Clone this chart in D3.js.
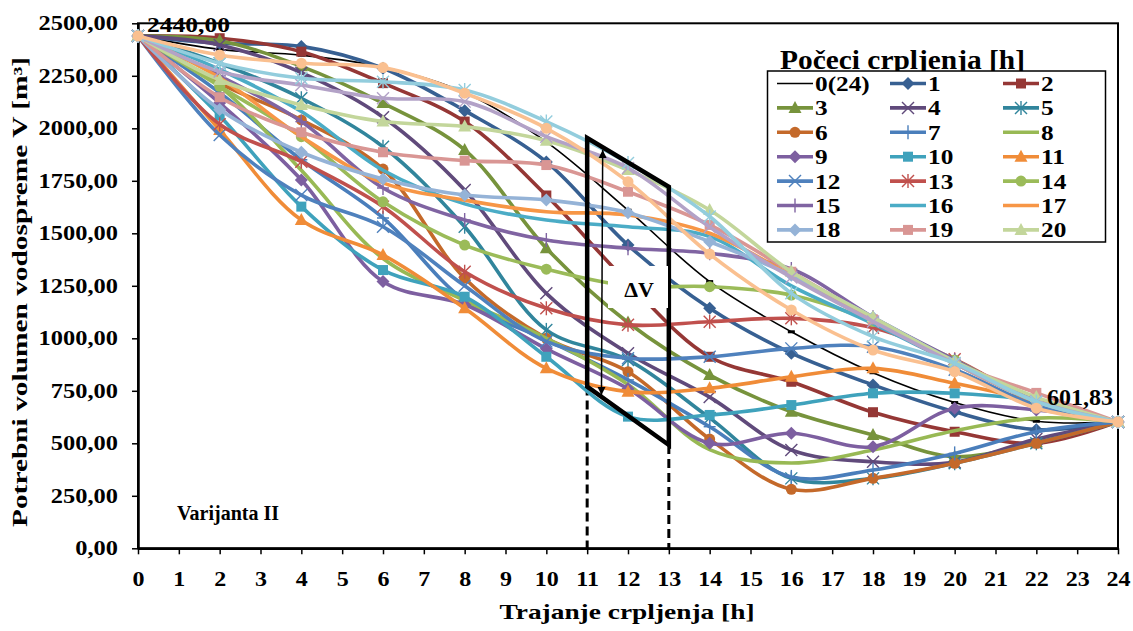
<!DOCTYPE html>
<html><head><meta charset="utf-8">
<script src="https://cdn.jsdelivr.net/npm/d3@7"></script>
<style>
body{margin:0;background:#fff;}
text{font-family:"Liberation Serif","Times New Roman",serif;font-weight:bold;fill:#000;}
</style>
</head><body>
<svg id="c" width="1133" height="631"></svg>
<script>
// ---------- DATA ----------
const hours = [0,2,4,6,8,10,12,14,16,18,20,22,24];
const seriesNames = ["0(24)","1","2","3","4","5","6","7","8","9","10","11","12","13","14","15","16","17","18","19","20","21","22","23"];
const v00 = [2440,2376,2348,2292,2170,1935,1610,1270,1031,836,694,605,601.83];
const v01 = [2440,2405,2390,2286,2084,1840,1444,1143,929,778,650,565,601.83];
const v02 = [2440,2429,2365,2215,2032,1680,1265,912,793,648,555,500,601.83];
const v03 = [2440,2417,2295,2120,1897,1429,1075,825,650,540,436,505,601.83];
const v04 = [2440,2397,2265,2053,1706,1214,929,720,468,412,410,520,601.83];
const v05 = [2440,2310,2143,1912,1531,1040,897,621,333,333,405,500,601.83];
const v06 = [2440,2214,2040,1806,1286,1000,841,520,281,333,405,500,601.83];
const v07 = [2440,2170,1850,1573,1180,992,802,579,340,373,452,555,601.83];
const v08 = [2440,2200,1800,1380,1180,1000,780,470,406,468,560,620,601.83];
const v09 = [2440,2120,1754,1270,1160,950,760,500,548,484,667,659,601.83];
const v10 = [2440,2060,1627,1325,1198,912,627,635,682,738,738,700,601.83];
const v11 = [2440,1992,1563,1397,1143,857,746,762,817,857,786,700,601.83];
const v12 = [2440,1968,1682,1531,1250,985,905,912,952,960,850,680,601.83];
const v13 = [2440,2019,1841,1627,1317,1143,1064,1079,1095,1050,900,700,601.83];
const v14 = [2440,2200,1960,1650,1444,1329,1250,1246,1206,1080,897,700,601.83];
const v15 = [2440,2250,2032,1716,1563,1468,1429,1405,1330,1100,897,700,601.83];
const v16 = [2440,2280,2080,1800,1640,1563,1531,1484,1250,1070,880,700,601.83];
const v17 = [2440,2240,1960,1740,1658,1603,1587,1500,1300,1090,880,700,601.83];
const v18 = [2440,2090,1886,1759,1682,1659,1598,1460,1300,1100,890,700,601.83];
const v19 = [2440,2148,1981,1886,1846,1825,1698,1540,1317,1090,880,740,601.83];
const v20 = [2440,2230,2111,2032,2008,1941,1801,1611,1317,1100,890,720,601.83];
const v21 = [2440,2270,2206,2143,2127,1960,1811,1530,1290,1080,880,700,601.83];
const v22 = [2440,2310,2238,2222,2182,2032,1835,1580,1214,1008,882,698,601.83];
const v23 = [2440,2349,2310,2289,2167,2000,1746,1401,1135,944,841,667,601.83];
const seriesValues = [v00,v01,v02,v03,v04,v05,v06,v07,v08,v09,v10,v11,v12,v13,v14,v15,v16,v17,v18,v19,v20,v21,v22,v23];
const yTicks = [0,250,500,750,1000,1250,1500,1750,2000,2250,2500];
const xTicks = d3.range(0,25);
// annotation (ΔV trapezoid, in data units)
const trapX = [11,13,13,11];
const trapY = [1954,1721,492,770];
const arrowX = [11.35,11.38];
const arrowY = [730,1897];
const startLabel = "2440,00", endLabel = "601,83";

// ---------- STYLE ----------
const colors = ["#000000","#376092","#953735","#77933C","#604A7B","#31859C","#C4692A","#4A7EBB","#98B954","#7D5FA0","#3FA2BC","#F08C38","#4F81BD","#C0504D","#9BBB59","#8064A2","#4BACC6","#F79646","#95B3D7","#D99694","#C3D69B","#B3A2C7","#93CDDD","#FAC090"];
const markers = ["dash","diamond","square","triangle","x","star","circle","plus","none","diamond","square","triangle","x","star","circle","plus","none","none","diamond","square","triangle","x","star","circle"];

const svg = d3.select("#c");
const x = d3.scaleLinear().domain([0,24]).range([138,1118]);
const y = d3.scaleLinear().domain([0,2500]).range([548.3,23.3]);

svg.append("rect").attr("width",1133).attr("height",631).attr("fill","#fff");

// plot frame
svg.append("rect").attr("x",x(0)).attr("y",y(2500)).attr("width",x(24)-x(0)).attr("height",y(0)-y(2500))
  .attr("fill","none").attr("stroke","#000").attr("stroke-width",2);

// axes
const fmt = d => d3.format(".2f")(d).replace(".",",");
const ya = svg.append("g").attr("transform",`translate(${x(0)},0)`)
  .call(d3.axisLeft(y).tickValues(yTicks).tickSize(6).tickSizeOuter(0).tickPadding(14).tickFormat(fmt));
ya.selectAll("text").attr("font-size",20).attr("transform","scale(1.22,1)").attr("x",-16.5);
const xa = svg.append("g").attr("transform",`translate(0,${y(0)})`)
  .call(d3.axisBottom(x).tickValues(xTicks).tickSize(6).tickSizeOuter(0).tickPadding(18).tickFormat(d=>d));
xa.selectAll("text").attr("font-size",20).attr("transform","scale(1.2,1)");
[ya,xa].forEach(a=>{a.select(".domain").attr("stroke-width",2.5);a.selectAll(".tick line").attr("stroke-width",1.5);});

// clip for lines
svg.append("clipPath").attr("id","pc").append("rect").attr("x",x(0)-10).attr("y",y(2500)-10).attr("width",x(24)-x(0)+20).attr("height",y(0)-y(2500)+20);

// dashed verticals
svg.append("line").attr("x1",x(trapX[0])).attr("x2",x(trapX[0])).attr("y1",y(trapY[3])).attr("y2",y(0))
  .attr("stroke","#000").attr("stroke-width",3).attr("stroke-dasharray","9,5");
svg.append("line").attr("x1",x(trapX[1])).attr("x2",x(trapX[1])).attr("y1",y(trapY[2])).attr("y2",y(0))
  .attr("stroke","#000").attr("stroke-width",3).attr("stroke-dasharray","9,5");

// series
const line = d3.line().x((d,i)=>x(hours[i])).y(d=>y(d)).curve(d3.curveCatmullRom.alpha(0.5));
function drawMarker(g,type,cx,cy,col){
  const s=6;
  if(type==="diamond") g.append("path").attr("d",`M${cx},${cy-s-0.5}L${cx+s+0.5},${cy}L${cx},${cy+s+0.5}L${cx-s-0.5},${cy}Z`).attr("fill",col);
  else if(type==="square") g.append("rect").attr("x",cx-5).attr("y",cy-5).attr("width",10).attr("height",10).attr("fill",col);
  else if(type==="triangle") g.append("path").attr("d",`M${cx},${cy-7}L${cx+6.5},${cy+5}L${cx-6.5},${cy+5}Z`).attr("fill",col);
  else if(type==="circle") g.append("circle").attr("cx",cx).attr("cy",cy).attr("r",5.5).attr("fill",col);
  else if(type==="dash") g.append("rect").attr("x",cx-3.5).attr("y",cy-1.5).attr("width",7).attr("height",3).attr("fill",col);
  else if(type==="x"||type==="star"||type==="plus"){
    const p=g.append("g").attr("stroke",col).attr("stroke-width",1.4);
    if(type!=="plus"){p.append("line").attr("x1",cx-6).attr("y1",cy-6).attr("x2",cx+6).attr("y2",cy+6);
      p.append("line").attr("x1",cx-6).attr("y1",cy+6).attr("x2",cx+6).attr("y2",cy-6);}
    if(type!=="x"){p.append("line").attr("x1",cx).attr("y1",cy-7).attr("x2",cx).attr("y2",cy+7);}
    if(type==="plus"){p.append("line").attr("x1",cx-6).attr("y1",cy).attr("x2",cx+6).attr("y2",cy);}
  }
}
const sg = svg.append("g").attr("clip-path","url(#pc)");
seriesValues.forEach((vals,k)=>{
  const g = sg.append("g");
  g.append("path").attr("d",line(vals)).attr("fill","none").attr("stroke",colors[k])
    .attr("stroke-width",k===0?1.6:3.6).attr("stroke-linejoin","round");
  vals.forEach((v,i)=>{ if(k>0||(i>0&&i<12)) drawMarker(g,markers[k],x(hours[i]),y(v),colors[k]); });
});

// trapezoid
svg.append("path").attr("d",d3.line()(trapX.map((t,i)=>[x(t),y(trapY[i])]))+"Z")
  .attr("fill","none").attr("stroke","#000").attr("stroke-width",4.5).attr("stroke-linejoin","miter");
// arrow
const defs=svg.append("defs");
defs.append("marker").attr("id","ah").attr("viewBox","0 0 10 10").attr("refX",10).attr("refY",5)
  .attr("markerWidth",8).attr("markerHeight",9).attr("markerUnits","userSpaceOnUse").attr("orient","auto-start-reverse")
  .append("path").attr("d","M0,0L10,5L0,10Z").attr("fill","#000");
svg.append("line").attr("x1",x(arrowX[0])).attr("y1",y(arrowY[0])).attr("x2",x(arrowX[1])).attr("y2",y(arrowY[1]))
  .attr("stroke","#000").attr("stroke-width",1.5).attr("marker-start","url(#ah)").attr("marker-end","url(#ah)");
// ΔV label
svg.append("rect").attr("x",608).attr("y",266).attr("width",60).attr("height",42).attr("fill","#fff");
svg.append("text").attr("x",639).attr("y",297).attr("text-anchor","middle").attr("font-size",22).text("ΔV");

// data labels
svg.append("text").attr("x",147).attr("y",32).attr("font-size",20).attr("textLength",83).attr("lengthAdjust","spacingAndGlyphs").text(startLabel);
svg.append("text").attr("x",1047).attr("y",405).attr("font-size",24).attr("textLength",66).attr("lengthAdjust","spacingAndGlyphs").text(endLabel);
svg.append("text").attr("x",177).attr("y",520).attr("font-size",20).text("Varijanta II");

// axis titles
svg.append("text").attr("x",627).attr("y",619).attr("text-anchor","middle").attr("font-size",21)
  .attr("textLength",255).attr("lengthAdjust","spacingAndGlyphs").text("Trajanje crpljenja [h]");
svg.append("text").attr("transform","translate(27,292) rotate(-90)").attr("text-anchor","middle").attr("font-size",20)
  .attr("textLength",470).attr("lengthAdjust","spacingAndGlyphs").text("Potrebni volumen vodospreme V [m³]");

// legend
svg.append("text").attr("x",780).attr("y",69).attr("font-size",27).attr("textLength",245).attr("lengthAdjust","spacingAndGlyphs").text("Počeci crpljenja [h]");
svg.append("rect").attr("x",767.5).attr("y",71).attr("width",338).attr("height",171).attr("fill","#fff").attr("stroke","#000").attr("stroke-width",1.5);
const legCols=[777,890,1003], rowY0=83.5, rowDy=24.4;
for(let k=0;k<=20;k++){
  const r=Math.floor(k/3), c=k%3;
  const lx=legCols[c], ly=rowY0+r*rowDy;
  const g=svg.append("g");
  g.append("line").attr("x1",lx).attr("x2",lx+36).attr("y1",ly).attr("y2",ly).attr("stroke",colors[k]).attr("stroke-width",k===0?1.6:3.6);
  if(k>0) drawMarker(g,markers[k],lx+18,ly,colors[k]);
  g.append("text").attr("transform",`translate(${lx+38},${ly+7.5}) scale(1.15,1)`).attr("font-size",22).text(seriesNames[k]);
}
</script>
</body></html>
